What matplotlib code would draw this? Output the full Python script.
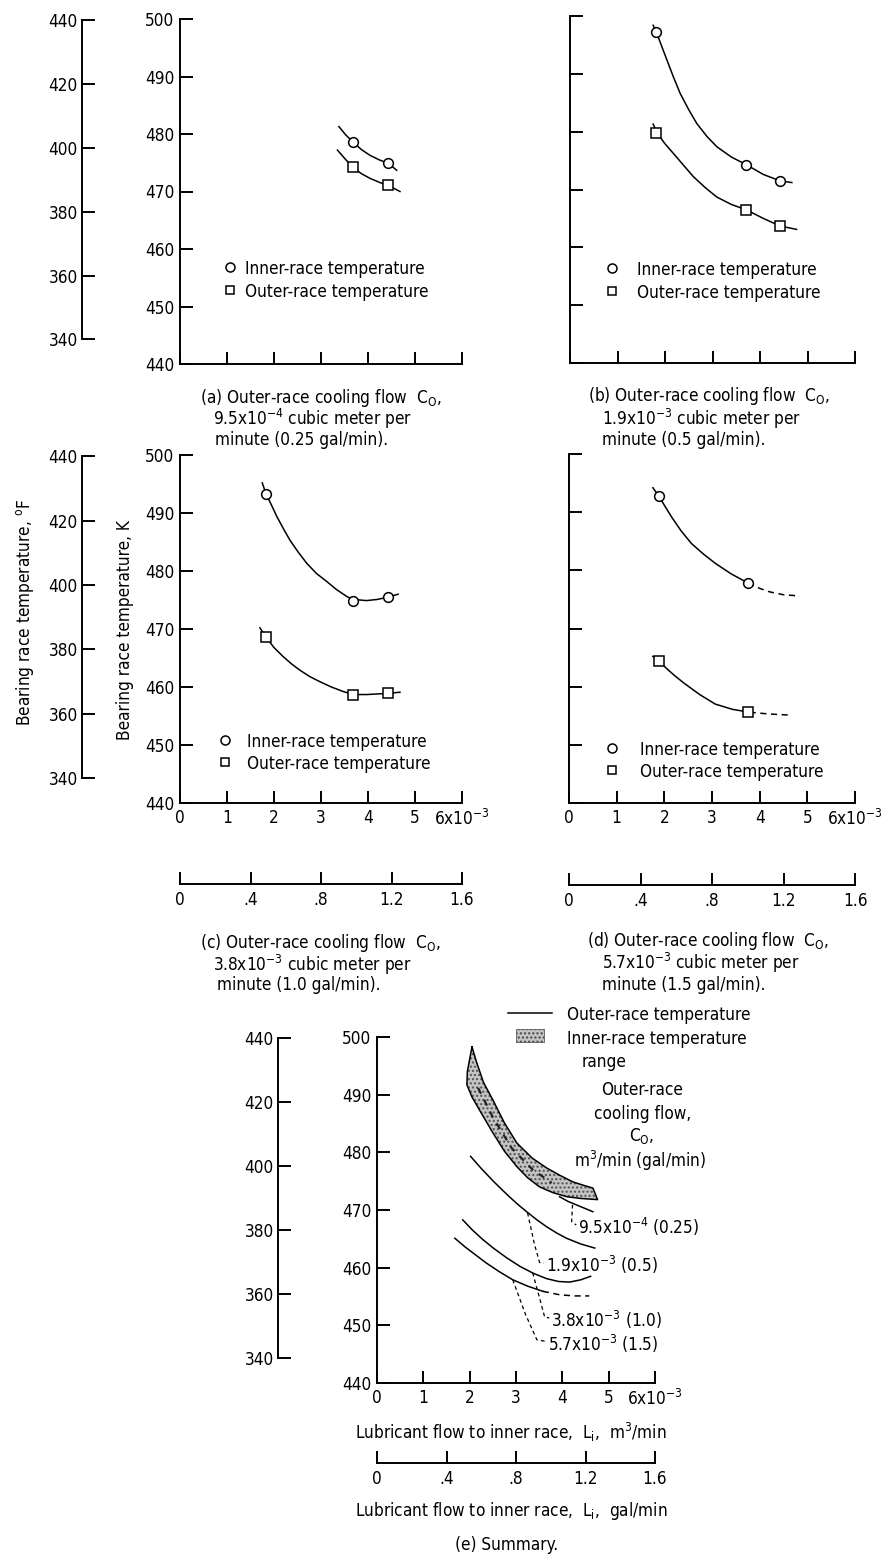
import numpy as np
import matplotlib
matplotlib.use("Agg")
import matplotlib.pyplot as plt
from matplotlib import font_manager
from matplotlib.lines import Line2D
from matplotlib.patches import Rectangle

W, H = 884, 1563

# the scan uses condensed lettering: use a narrow face if one is installed
fonts = font_manager.fontManager.ttflist
names = {f.name for f in fonts}
condensed = [f for f in fonts if f.name == "DejaVu Sans" and f.stretch == "condensed"
             and f.style == "normal" and f.weight in (400, "normal")]
if "Liberation Sans Narrow" in names:
    FONT, STRETCH, FS = "Liberation Sans Narrow", "normal", 13
elif condensed:
    FONT, STRETCH, FS = "DejaVu Sans", "condensed", 12.3
else:
    FONT, STRETCH, FS = "DejaVu Sans", "normal", 11
plt.rcParams["font.family"] = [FONT, "DejaVu Sans"]
plt.rcParams["font.stretch"] = STRETCH
plt.rcParams["mathtext.fontset"] = "custom"
plt.rcParams["mathtext.rm"] = FONT
plt.rcParams["mathtext.it"] = FONT
plt.rcParams["font.size"] = FS

# ---- data: x = lubricant flow (1e-3 m^3/min), y = temperature (K) ----
X_TICKS = [0, 1, 2, 3, 4, 5, 6]
X_LABELS = ["0", "1", "2", "3", "4", "5", r"6x10$^{-3}$"]
K_TICKS = [440, 450, 460, 470, 480, 490, 500]
F_TICKS = [340, 360, 380, 400, 420, 440]
GAL_TICKS = [0, 0.4, 0.8, 1.2, 1.6]
GAL_LABELS = ["0", ".4", ".8", "1.2", "1.6"]

# (a) Co = 9.5e-4
A_PTS_X = [3.68, 4.43]
A_IN_T = [478.6, 474.9]
A_OUT_T = [474.2, 471.1]
A_IN_CX = [3.38, 3.52, 3.68, 3.86, 4.04, 4.24, 4.43, 4.61]
A_IN_CT = [481.3, 479.9, 478.6, 477.3, 476.3, 475.5, 474.9, 473.7]
A_OUT_CX = [3.35, 3.52, 3.68, 3.86, 4.04, 4.24, 4.42, 4.68]
A_OUT_CT = [477.2, 475.6, 474.2, 473.1, 472.3, 471.6, 471.1, 470.0]

# (b) Co = 1.9e-3
B_PTS_X = [1.82, 3.71, 4.42]
B_IN_T = [497.2, 474.3, 471.5]
B_OUT_T = [479.7, 466.5, 463.7]
B_IN_CX = [1.75, 1.82, 1.92, 2.04, 2.18, 2.32, 2.50, 2.67, 2.88, 3.09, 3.40, 3.71, 4.07, 4.42, 4.67]
B_IN_CT = [498.4, 497.2, 495.0, 492.4, 489.4, 486.6, 483.8, 481.4, 479.2, 477.4, 475.6, 474.3, 472.6, 471.5, 471.2]
B_OUT_CX = [1.75, 1.84, 2.00, 2.18, 2.40, 2.60, 2.85, 3.09, 3.40, 3.71, 4.07, 4.42, 4.77]
B_OUT_CT = [481.3, 479.7, 477.9, 476.2, 474.1, 472.2, 470.3, 468.7, 467.4, 466.5, 465.0, 463.7, 463.1]

# (c) Co = 3.8e-3
C_PTS_X = [1.83, 3.68, 4.43]
C_IN_T = [493.3, 474.8, 475.5]
C_OUT_T = [468.6, 458.6, 458.9]
C_IN_CX = [1.75, 1.83, 1.95, 2.06, 2.20, 2.34, 2.52, 2.70, 2.90, 3.12, 3.33, 3.55, 3.68, 3.97, 4.20, 4.43, 4.64]
C_IN_CT = [495.2, 493.3, 491.3, 489.4, 487.3, 485.3, 483.2, 481.3, 479.6, 478.2, 476.8, 475.6, 475.1, 474.9, 475.1, 475.5, 476.0]
C_OUT_CX = [1.70, 1.83, 2.00, 2.20, 2.37, 2.55, 2.76, 2.98, 3.22, 3.48, 3.69, 3.97, 4.20, 4.43, 4.68]
C_OUT_CT = [470.2, 468.6, 466.8, 465.2, 464.0, 462.9, 461.8, 460.9, 460.0, 459.2, 458.7, 458.7, 458.8, 458.9, 459.1]

# (d) Co = 5.7e-3
D_PTS_X = [1.88, 3.76]
D_IN_T = [492.8, 477.8]
D_OUT_T = [464.4, 455.6]
D_IN_CX = [1.76, 1.88, 2.00, 2.15, 2.35, 2.57, 2.82, 3.07, 3.40, 3.76]
D_IN_CT = [494.2, 492.8, 491.2, 489.2, 486.8, 484.6, 482.8, 481.2, 479.4, 477.8]
D_IN_DX = [3.76, 4.00, 4.21, 4.50, 4.84]
D_IN_DT = [477.8, 476.9, 476.3, 475.8, 475.6]
D_OUT_CX = [1.76, 1.89, 2.05, 2.23, 2.43, 2.75, 3.07, 3.43, 3.79]
D_OUT_CT = [465.2, 464.4, 463.1, 461.8, 460.5, 458.6, 457.0, 456.1, 455.6]
D_OUT_DX = [3.79, 4.20, 4.67]
D_OUT_DT = [455.6, 455.3, 455.1]

# (e) summary, outer-race curves
E_95_X = [3.94, 4.12, 4.30, 4.48, 4.66]
E_95_T = [472.3, 471.5, 470.9, 470.3, 469.7]
E_19_X = [2.02, 2.25, 2.51, 2.70, 2.87, 3.05, 3.23, 3.45, 3.66, 3.88, 4.09, 4.40, 4.70]
E_19_T = [479.3, 477.2, 475.0, 473.5, 472.2, 470.9, 469.7, 468.3, 467.1, 466.0, 465.1, 464.1, 463.4]
E_38_X = [1.85, 2.05, 2.28, 2.51, 2.80, 3.09, 3.38, 3.66, 3.92, 4.16, 4.40, 4.61]
E_38_T = [468.3, 466.6, 464.9, 463.4, 461.7, 460.2, 459.0, 458.1, 457.6, 457.5, 457.9, 458.5]
E_57_X = [1.68, 1.90, 2.13, 2.36, 2.64, 2.93, 3.25, 3.58]
E_57_T = [465.1, 463.6, 462.2, 460.8, 459.3, 457.9, 456.8, 455.9]
E_57_DX = [3.58, 3.94, 4.26, 4.58]
E_57_DT = [455.9, 455.3, 455.1, 455.1]
# inner-race temperature range (upper edge then lower edge back)
BAND_X = [2.05, 2.15, 2.30, 2.50, 2.75, 3.02, 3.35, 3.66, 3.95, 4.22, 4.45, 4.66, 4.76,
          4.40, 4.10, 3.80, 3.51, 3.25, 3.02, 2.75, 2.50, 2.20, 2.05, 1.94, 1.95]
BAND_T = [498.3, 495.6, 492.1, 489.1, 485.1, 481.6, 479.0, 477.3, 476.0, 474.9, 474.3, 473.8, 471.8,
          472.0, 472.3, 473.0, 474.0, 475.6, 477.5, 480.2, 483.4, 487.5, 489.6, 491.7, 494.0]
BAND_MID_X = [2.18, 2.50, 2.90, 3.36, 3.77]
BAND_MID_T = [491.2, 486.1, 480.8, 477.0, 474.7]
# dashed leaders from the curves to their labels
LEAD_95 = ([4.22, 4.20, 4.30], [470.9, 468.0, 467.4])
LEAD_19 = ([3.25, 3.40, 3.51, 3.60], [469.5, 464.0, 460.9, 460.8])
LEAD_38 = ([3.36, 3.50, 3.62, 3.72], [459.1, 455.0, 451.4, 451.3])
LEAD_57 = ([2.93, 3.20, 3.45, 3.66], [457.9, 452.0, 447.5, 447.2])
E_LABELS = [r"9.5x10$^{-4}$ (0.25)", r"1.9x10$^{-3}$ (0.5)",
            r"3.8x10$^{-3}$ (1.0)", r"5.7x10$^{-3}$ (1.5)"]


def k2f(k):
    return (np.asarray(k) - 273.15) * 9 / 5 + 32


GAL_M3 = 3.78541  # 1 gal = 3.78541e-3 m^3

fig = plt.figure(figsize=(W / 100, H / 100), dpi=100)
LW_AX = 1.4
LW = 1.1
TL = 9
BAND_FACE = "#c4c4c4"


def px_axes(left, top, right, bottom):
    return fig.add_axes([left / W, 1 - bottom / H, (right - left) / W, (bottom - top) / H])


def ftext(x, y, s, **kw):
    kw.setdefault("va", "center_baseline")
    kw.setdefault("ha", "left")
    fig.text(x / W, 1 - y / H, s, **kw)


def temp_panel(left, top, right, bottom, ylabels, xlabels):
    ax = px_axes(left, top, right, bottom)
    ax.set_facecolor("none")
    ax.set_xlim(0, 6)
    ax.set_ylim(440, 500)
    for s in ["top", "right"]:
        ax.spines[s].set_visible(False)
    for s in ["left", "bottom"]:
        ax.spines[s].set_linewidth(LW_AX)
    ax.set_xticks(X_TICKS)
    ax.set_yticks(K_TICKS)
    ax.tick_params(direction="in", length=TL, width=LW_AX, pad=4)
    ax.set_xticklabels(X_LABELS if xlabels else [])
    ax.set_yticklabels([str(k) for k in K_TICKS] if ylabels else [])
    return ax


def f_axis(x, top, bottom):
    ax = px_axes(x, top, x + 2, bottom)
    ax.set_facecolor("none")
    ax.set_ylim(k2f(440), k2f(500))
    for s in ["top", "right", "bottom"]:
        ax.spines[s].set_visible(False)
    ax.spines["left"].set_bounds(340, 440)
    ax.spines["left"].set_linewidth(LW_AX)
    ax.set_xticks([])
    ax.set_yticks(F_TICKS)
    ax.set_yticklabels([str(f) for f in F_TICKS])
    ax.tick_params(axis="y", direction="in", length=TL, width=LW_AX, pad=3)


def gal_axis(left, right, y):
    ax = px_axes(left, y - 2, right, y)
    ax.set_facecolor("none")
    ax.set_xlim(0, 6 / GAL_M3)
    for s in ["top", "right", "left"]:
        ax.spines[s].set_visible(False)
    ax.spines["bottom"].set_bounds(0, 1.6)
    ax.spines["bottom"].set_linewidth(LW_AX)
    ax.set_yticks([])
    ax.set_xticks(GAL_TICKS)
    ax.set_xticklabels(GAL_LABELS)
    ax.tick_params(axis="x", direction="in", length=TL, width=LW_AX, pad=5)


def points(ax, xs, t_in, t_out):
    ax.plot(xs, t_in, "o", ms=7, mfc="white", mec="black", mew=1.1, zorder=5)
    ax.plot(xs, t_out, "s", ms=6.5, mfc="white", mec="black", mew=1.1, zorder=5)


def key(ax, x_pt, x_txt, y1, y2, ax_rect):
    left, top, right, bottom = ax_rect
    to_ax = lambda px, py: ((px - left) / (right - left), (bottom - py) / (bottom - top))
    for y, m, ms, lab in [(y1, "o", 6.5, "Inner-race temperature"),
                          (y2, "s", 6, "Outer-race temperature")]:
        ax.add_line(Line2D([to_ax(x_pt, y)[0]], [to_ax(x_pt, y)[1]], marker=m, ms=ms,
                           mfc="white", mec="black", mew=1.1, transform=ax.transAxes))
        ax.text(*to_ax(x_txt, y), lab, transform=ax.transAxes, va="center_baseline", ha="left")


# ---------------- (a) ----------------
RA = (180, 19, 462, 364)
ax = temp_panel(*RA, ylabels=True, xlabels=False)
ax.plot(A_IN_CX, A_IN_CT, "k-", lw=LW)
ax.plot(A_OUT_CX, A_OUT_CT, "k-", lw=LW)
points(ax, A_PTS_X, A_IN_T, A_OUT_T)
key(ax, 230, 245, 267, 290, RA)
f_axis(82, 19, 364)
ftext(200, 395, r"(a) Outer-race cooling flow  C$_{\rm O}$,")
ftext(213, 416, r"9.5x10$^{-4}$ cubic meter per")
ftext(215, 438, "minute (0.25 gal/min).")

# ---------------- (b) ----------------
RB = (570, 16, 855, 363)
ax = temp_panel(*RB, ylabels=False, xlabels=False)
ax.plot(B_IN_CX, B_IN_CT, "k-", lw=LW)
ax.plot(B_OUT_CX, B_OUT_CT, "k-", lw=LW)
points(ax, B_PTS_X, B_IN_T, B_OUT_T)
key(ax, 612, 637, 268, 291, RB)
ftext(588, 393, r"(b) Outer-race cooling flow  C$_{\rm O}$,")
ftext(602, 416, r"1.9x10$^{-3}$ cubic meter per")
ftext(602, 438, "minute (0.5 gal/min).")

# ---------------- (c) ----------------
RC = (180, 455, 462, 803)
ax = temp_panel(*RC, ylabels=True, xlabels=True)
ax.plot(C_IN_CX, C_IN_CT, "k-", lw=LW)
ax.plot(C_OUT_CX, C_OUT_CT, "k-", lw=LW)
points(ax, C_PTS_X, C_IN_T, C_OUT_T)
key(ax, 225, 247, 740, 762, RC)
f_axis(82, 455, 803)
gal_axis(180, 462, 884)
ftext(25, 612, r"Bearing race temperature, $^{\rm o}$F", rotation=90, ha="center", va="center")
ftext(125, 630, "Bearing race temperature, K", rotation=90, ha="center", va="center")
ftext(200, 940, r"(c) Outer-race cooling flow  C$_{\rm O}$,")
ftext(213, 962, r"3.8x10$^{-3}$ cubic meter per")
ftext(217, 983, "minute (1.0 gal/min).")

# ---------------- (d) ----------------
RD = (569, 454, 855, 803)
ax = temp_panel(*RD, ylabels=False, xlabels=True)
ax.plot(D_IN_CX, D_IN_CT, "k-", lw=LW)
ax.plot(D_IN_DX, D_IN_DT, "k-", lw=LW, dashes=(4, 3))
ax.plot(D_OUT_CX, D_OUT_CT, "k-", lw=LW)
ax.plot(D_OUT_DX, D_OUT_DT, "k-", lw=LW, dashes=(4, 3))
points(ax, D_PTS_X, D_IN_T, D_OUT_T)
key(ax, 612, 640, 748, 770, RD)
gal_axis(569, 855, 885)
ftext(587, 938, r"(d) Outer-race cooling flow  C$_{\rm O}$,")
ftext(602, 960, r"5.7x10$^{-3}$ cubic meter per")
ftext(602, 983, "minute (1.5 gal/min).")

# ---------------- (e) ----------------
RE = (377, 1037, 655, 1383)
ax = temp_panel(*RE, ylabels=True, xlabels=True)
ax.fill(BAND_X, BAND_T, facecolor=BAND_FACE, edgecolor="#505050", hatch="....", lw=0, zorder=2)
ax.plot(BAND_X + BAND_X[:1], BAND_T + BAND_T[:1], "k-", lw=LW, zorder=3)
ax.plot(BAND_MID_X, BAND_MID_T, color="#222222", ls=(0, (3, 3)), lw=1.6, zorder=3)
ax.plot(E_95_X, E_95_T, "k-", lw=LW)
ax.plot(E_19_X, E_19_T, "k-", lw=LW)
ax.plot(E_38_X, E_38_T, "k-", lw=LW)
ax.plot(E_57_X, E_57_T, "k-", lw=LW)
ax.plot(E_57_DX, E_57_DT, "k-", lw=LW, dashes=(4, 3))
for (lx, ly), lab in zip([LEAD_95, LEAD_19, LEAD_38, LEAD_57], E_LABELS):
    ax.plot(lx, ly, "k-", lw=0.9, dashes=(3, 2.5))
    ax.text(lx[-1] + 0.04, ly[-1], lab, va="center_baseline", ha="left")
f_axis(278, 1037, 1383)
gal_axis(377, 655, 1463)
ftext(511, 1430, r"Lubricant flow to inner race,  L$_{\rm i}$,  m$^3$/min", ha="center")
ftext(511, 1508, r"Lubricant flow to inner race,  L$_{\rm i}$,  gal/min", ha="center")
ftext(507, 1543, "(e) Summary.", ha="center")

# legend of (e)
fig.add_artist(Line2D([508 / W, 552 / W], [1 - 1013 / H] * 2, color="black", lw=LW))
fig.add_artist(Rectangle((516 / W, 1 - 1042 / H), 28 / W, 13 / H, facecolor=BAND_FACE,
                         edgecolor="#444444", hatch="....", lw=0.5))
ftext(567, 1013, "Outer-race temperature")
ftext(567, 1037, "Inner-race temperature")
ftext(582, 1060, "range")
ftext(642, 1088, "Outer-race", ha="center")
ftext(643, 1112, "cooling flow,", ha="center")
ftext(642, 1134, r"C$_{\rm O}$,", ha="center")
ftext(640, 1158, r"m$^3$/min (gal/min)", ha="center")

fig.savefig("out.png", dpi=100)
